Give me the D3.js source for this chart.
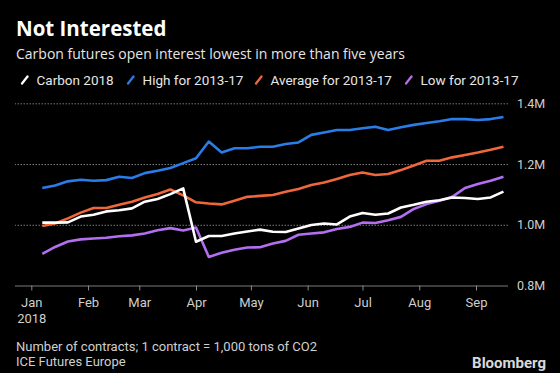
<!DOCTYPE html>
<html>
<head>
<meta charset="utf-8">
<script src="https://d3js.org/d3.v7.min.js"></script>
<style>
  body { margin: 0; background: #000; }
  svg { display: block; font-family: Roboto, "Open Sans", sans-serif; }
</style>
</head>
<body>
<div id="chart"></div>
<script>

var startWeek = "2018-01-01";
var weekCount = 37;

var carbon2018 = [1.007, 1.007, 1.008, 1.027, 1.033, 1.044, 1.048, 1.054, 1.076, 1.085,
    1.101, 1.120, 0.944, 0.963, 0.963, 0.971, 0.978, 0.984, 0.977, 0.976,
    0.988, 0.999, 1.004, 1.001, 1.027, 1.039, 1.033, 1.037, 1.057, 1.066,
    1.076, 1.081, 1.090, 1.088, 1.085, 1.090, 1.109];

var high1317 = [1.121, 1.129, 1.143, 1.148, 1.145, 1.147, 1.158, 1.154, 1.170, 1.178,
    1.187, 1.203, 1.219, 1.274, 1.238, 1.252, 1.252, 1.257, 1.257, 1.266,
    1.271, 1.296, 1.304, 1.312, 1.312, 1.318, 1.323, 1.312, 1.321, 1.329,
    1.335, 1.341, 1.348, 1.348, 1.345, 1.348, 1.355];

var avg1317 = [0.996, 1.004, 1.021, 1.040, 1.055, 1.055, 1.066, 1.076, 1.090, 1.101,
    1.116, 1.097, 1.074, 1.070, 1.067, 1.079, 1.092, 1.095, 1.098, 1.109,
    1.118, 1.131, 1.139, 1.151, 1.164, 1.172, 1.164, 1.167, 1.180, 1.195,
    1.211, 1.211, 1.222, 1.230, 1.238, 1.247, 1.257];

var low1317 = [0.904, 0.927, 0.945, 0.952, 0.955, 0.957, 0.962, 0.965, 0.971, 0.982,
    0.989, 0.981, 0.991, 0.894, 0.908, 0.918, 0.925, 0.926, 0.938, 0.947,
    0.967, 0.971, 0.975, 0.986, 0.993, 1.007, 1.006, 1.015, 1.026, 1.052,
    1.068, 1.079, 1.092, 1.121, 1.134, 1.145, 1.158];

var seriesNames = ["Carbon 2018", "High for 2013-17", "Average for 2013-17", "Low for 2013-17"];
var seriesColors = ["#ffffff", "#2a7de8", "#f0673b", "#b36ff0"];
var yTicks = [0.8, 1.0, 1.2, 1.4];
var monthTicks = ["2018-01-01", "2018-02-01", "2018-03-01", "2018-04-01", "2018-05-01",
    "2018-06-01", "2018-07-01", "2018-08-01", "2018-09-01"];

var width = 560, height = 373;
var parse = d3.timeParse("%Y-%m-%d");

var weeks = d3.timeWeek.every(1).range(parse(startWeek), d3.timeDay.offset(parse(startWeek), weekCount * 7));
var allSeries = [carbon2018, high1317, avg1317, low1317];

var svg = d3.select("#chart").append("svg")
    .attr("width", width)
    .attr("height", height);

svg.append("rect").attr("width", width).attr("height", height).attr("fill", "#000");

var x = d3.scaleTime()
    .domain([parse("2018-01-01"), parse("2018-09-01")])
    .range([31.3, 476]);

var y = d3.scaleLinear()
    .domain([0.8, 1.4])
    .range([285.5, 103.3]);

// gridlines + right labels
var grid = svg.append("g")
    .attr("transform", "translate(508,0)")
    .call(d3.axisRight(y)
        .tickValues(yTicks)
        .tickSize(-493)
        .tickPadding(9)
        .tickFormat(function(d) { return d3.format(".1f")(d) + "M"; }));
grid.select(".domain").remove();
grid.selectAll(".tick line")
    .attr("stroke", "#7a7a7a")
    .attr("stroke-width", 1)
    .attr("stroke-dasharray", function(d) { return d == 0.8 ? null : "1.5,1.5"; });
grid.selectAll(".tick text")
    .attr("fill", "#cfcfcf")
    .attr("font-size", 12.5)
    .attr("font-family", "Roboto, sans-serif");

var xAxis = svg.append("g")
    .attr("transform", "translate(0,285.5)")
    .call(d3.axisBottom(x)
        .tickValues(monthTicks.map(parse))
        .tickSize(5)
        .tickPadding(7)
        .tickFormat(d3.timeFormat("%b")));
xAxis.select(".domain").remove();
xAxis.selectAll(".tick line").attr("stroke", "#8a8a8a");
xAxis.selectAll(".tick text")
    .attr("fill", "#cfcfcf")
    .attr("font-size", 13)
    .attr("font-family", "Roboto, sans-serif");
xAxis.select(".tick text")
    .append("tspan").attr("x", 0).attr("dy", "1.25em").text("2018");

var line = d3.line()
    .x(function(d, i) { return x(weeks[i]); })
    .y(function(d) { return y(d); });

// draw back to front so white sits on top
[1, 2, 3, 0].forEach(function(k) {
    svg.append("path")
        .datum(allSeries[k])
        .attr("d", line)
        .attr("fill", "none")
        .attr("stroke", seriesColors[k])
        .attr("stroke-width", 2.6)
        .attr("stroke-linejoin", "round");
});

svg.append("text")
    .attr("x", 16).attr("y", 35.5)
    .attr("fill", "#fff")
    .attr("font-family", "'Open Sans', sans-serif")
    .attr("font-size", 20.5)
    .attr("font-weight", "bold")
    .text("Not Interested");

svg.append("text")
    .attr("x", 16).attr("y", 59)
    .attr("fill", "#e6e6e6")
    .attr("font-family", "'Open Sans', sans-serif")
    .attr("font-size", 14)
    .text("Carbon futures open interest lowest in more than five years");

var legendX = [22, 128, 256, 406];
var legend = svg.selectAll(".legend")
    .data(seriesNames)
    .enter().append("g")
    .attr("class", "legend")
    .attr("transform", function(d, i) { return "translate(" + legendX[i] + ",85)"; });

legend.append("line")
    .attr("x1", 0).attr("y1", -1.5)
    .attr("x2", 5.5).attr("y2", -8.5)
    .attr("stroke", function(d, i) { return seriesColors[i]; })
    .attr("stroke-width", 2.3)
    .attr("stroke-linecap", "round");

legend.append("text")
    .attr("x", 14.5).attr("y", 0)
    .attr("fill", "#e6e6e6")
    .attr("font-size", 13.5)
    .text(function(d) { return d; });

svg.append("text")
    .attr("x", 16).attr("y", 351)
    .attr("fill", "#cfcfcf")
    .attr("font-size", 13)
    .text("Number of contracts; 1 contract = 1,000 tons of CO2");

svg.append("text")
    .attr("x", 16).attr("y", 365.5)
    .attr("fill", "#cfcfcf")
    .attr("font-size", 13)
    .text("ICE Futures Europe");

svg.append("text")
    .attr("x", 546).attr("y", 368)
    .attr("text-anchor", "end")
    .attr("fill", "#d9d9d9")
    .attr("font-size", 15)
    .attr("font-weight", "bold")
    .text("Bloomberg");

</script>
</body>
</html>
